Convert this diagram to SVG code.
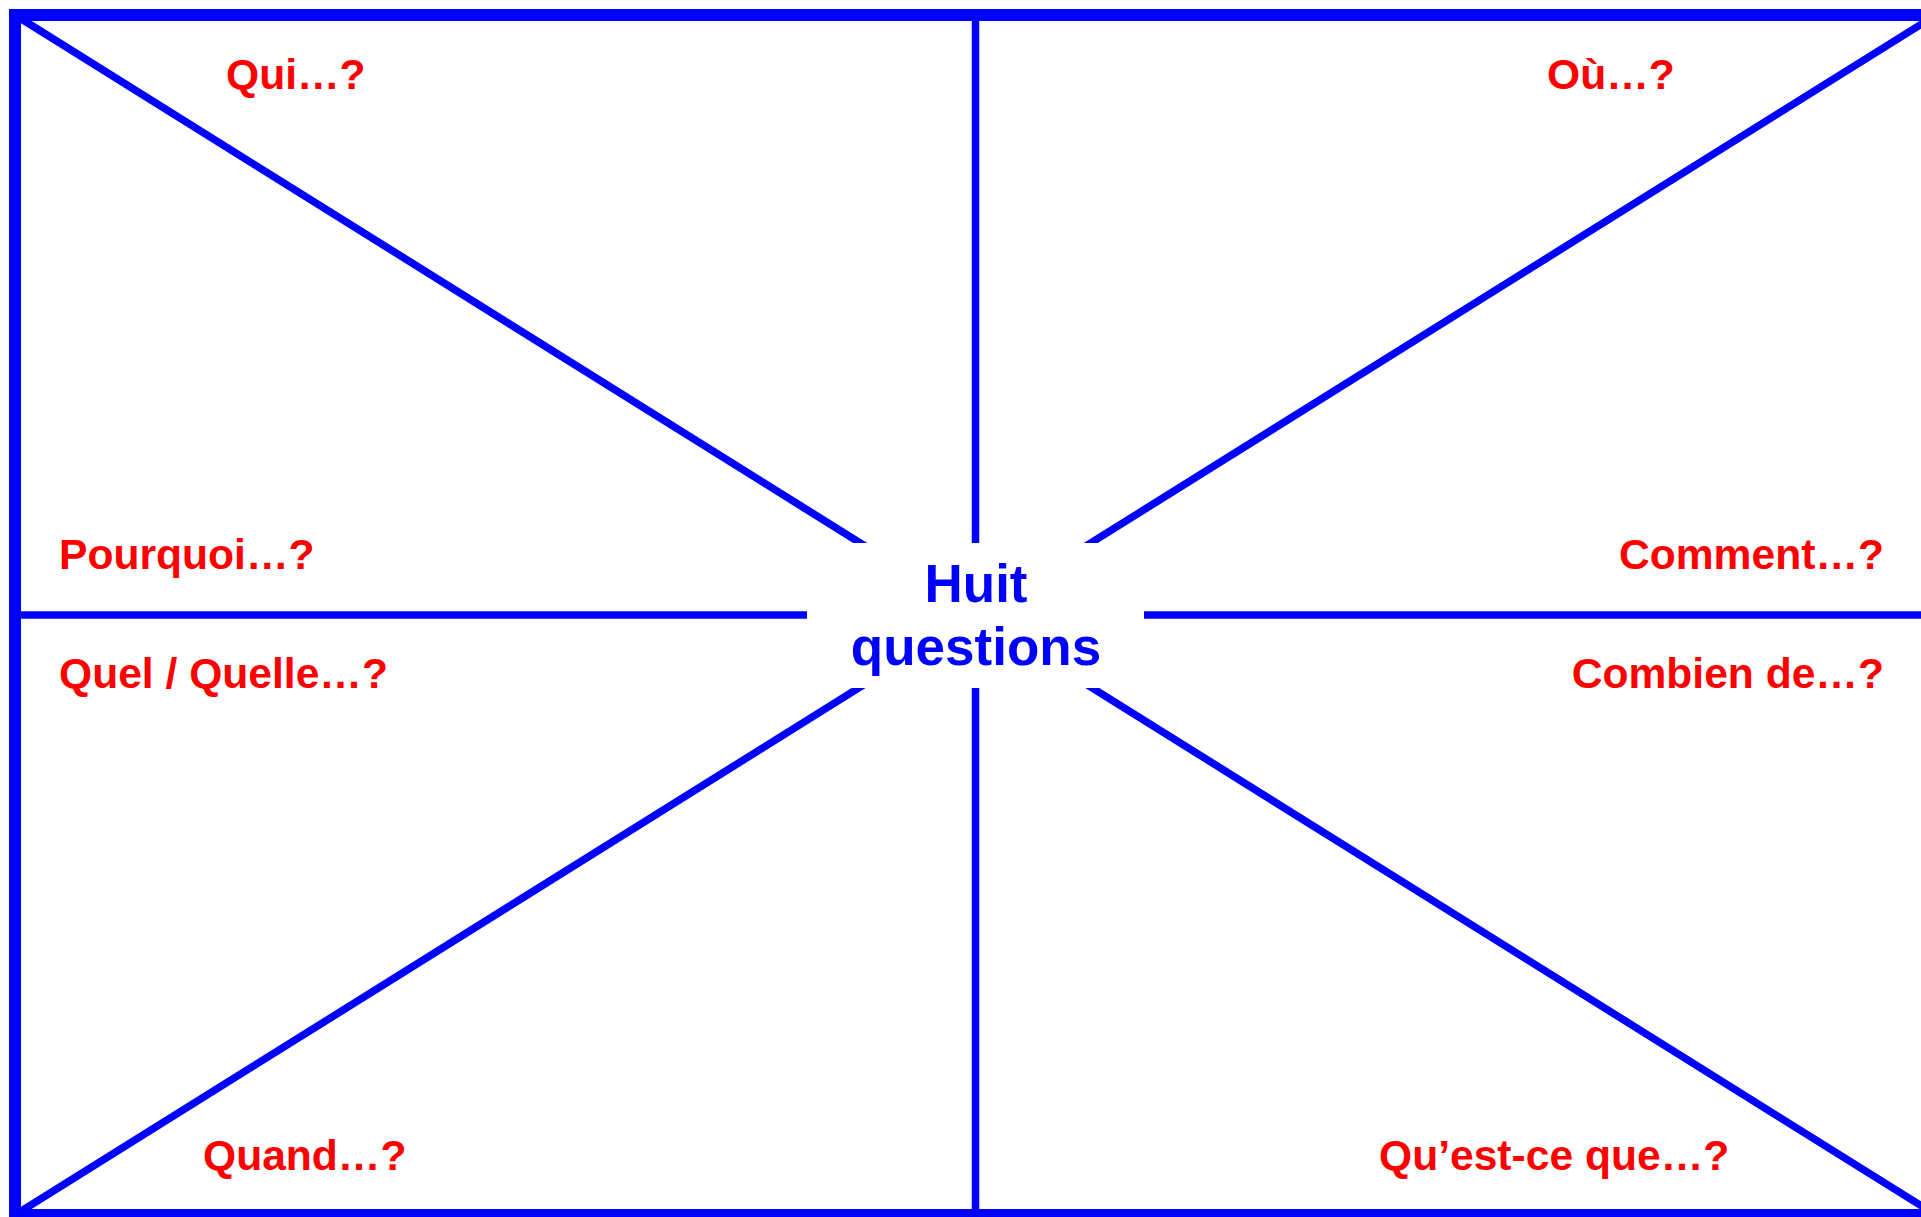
<svg xmlns="http://www.w3.org/2000/svg" width="1921" height="1217" viewBox="0 0 1921 1217">
<style>
.frame{fill:none;stroke:#0000FF;stroke-width:12}
.ln{stroke:#0000FF;stroke-width:7.5;fill:none}
.lbl{font-family:"Liberation Sans",Arial,sans-serif;font-weight:bold;font-size:42.6px;fill:#FF0000}
.ctr{font-family:"Liberation Sans",Arial,sans-serif;font-weight:bold;font-size:53px;fill:#0000FF;text-anchor:middle}
</style>
<rect width="1921" height="1217" fill="#FFFFFF"/>
<g id="connectors">
<line class="ln" x1="15" y1="15" x2="1936" y2="1215"/>
<line class="ln" x1="1936" y1="15" x2="15" y2="1215"/>
<line class="ln" x1="975.5" y1="15" x2="975.5" y2="1215"/>
<line class="ln" x1="15" y1="615" x2="1936" y2="615"/>
</g>
<rect id="frame" class="frame" x="15" y="15" width="1921" height="1200"/>
<g id="center">
<rect x="807" y="543" width="337" height="145" fill="#FFFFFF"/>
<text class="ctr" x="976" y="602">Huit</text>
<text class="ctr" x="976" y="665">questions</text>
</g>
<g id="qui"><text class="lbl" x="226" y="89">Qui…?</text></g>
<g id="ou"><text class="lbl" x="1547" y="89">Où…?</text></g>
<g id="pourquoi"><text class="lbl" x="59" y="569">Pourquoi…?</text></g>
<g id="quel"><text class="lbl" x="59" y="688">Quel / Quelle…?</text></g>
<g id="comment"><text class="lbl" x="1884" y="569" text-anchor="end">Comment…?</text></g>
<g id="combien"><text class="lbl" x="1884" y="688" text-anchor="end">Combien de…?</text></g>
<g id="quand"><text class="lbl" x="203" y="1170">Quand…?</text></g>
<g id="questce"><text class="lbl" x="1379" y="1170">Qu’est-ce que…?</text></g>
</svg>
